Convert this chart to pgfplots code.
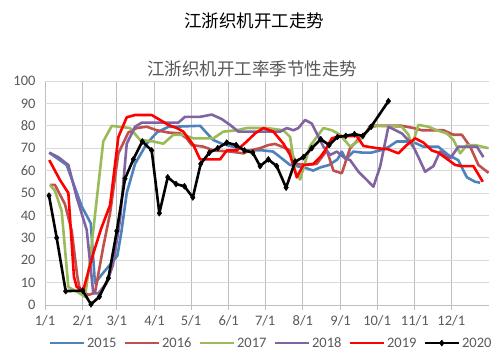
\documentclass[border=0pt]{standalone}
\usepackage{fontspec}
\setmainfont{Carlito}
\newfontfamily\cjk{Noto Sans CJK SC}
\usepackage{pgfplots}
\pgfplotsset{compat=1.18}
\definecolor{c15}{HTML}{4F81BD}
\definecolor{c16}{HTML}{C0504D}
\definecolor{c17}{HTML}{9BBB59}
\definecolor{c18}{HTML}{8064A2}
\definecolor{c19}{HTML}{FF0000}
\definecolor{txt}{HTML}{595959}
\definecolor{gridh}{HTML}{D9D9D9}
\definecolor{gridv}{HTML}{BFBFBF}
\begin{document}
\begin{tikzpicture}
\useasboundingbox (0,0) rectangle (498pt,352pt);
\node[font=\cjk\fontsize{17.5}{20}\selectfont] at (254pt,331pt) {江浙织机开工走势};
\node[font=\cjk\fontsize{17.5}{20}\selectfont, text=txt] at (252pt,283pt) {江浙织机开工率季节性走势};
\begin{axis}[
  at={(45pt,47pt)}, anchor=south west, scale only axis,
  width=444pt, height=224pt,
  xmin=0, xmax=365, ymin=0, ymax=100, clip=false,
  xtick={0,31,59,90,120,151,181,212,243,273,304,334},
  xticklabels={1/1,2/1,3/1,4/1,5/1,6/1,7/1,8/1,9/1,10/1,11/1,12/1},
  ytick={0,10,...,100},
  grid=major,
  x grid style={color=gridv, line width=0.8pt},
  y grid style={color=gridh, line width=0.8pt},
  separate axis lines,
  axis x line*=bottom, axis y line*=left,
  x axis line style={gridv, line width=0.8pt, -},
  y axis line style={draw=none},
  ytick style={draw=none},
  xtick style={gridv, line width=0.8pt},
  tick align=outside, major tick length=5pt,
  tick label style={font=\fontsize{14.5}{16}\selectfont, text=txt},
  /pgf/number format/assume math mode=true,
  xticklabel style={yshift=-2pt},
  yticklabel style={xshift=-1pt},
  legend style={at={(0.509,-0.17)}, anchor=center, draw=none, fill=none,
    font=\fontsize{14.5}{16}\selectfont, text=txt,
    /tikz/every even column/.append style={column sep=5pt}},
  legend columns=-1,
  legend image code/.code={\draw[mark repeat=2,mark phase=2,#1] plot coordinates {(0pt,0pt) (17pt,0pt) (34pt,0pt)};},
  every axis plot/.append style={line width=2.6pt, line join=round},
]
\addplot[c15, no markers] coordinates {(3.5,68)(17.8,62.5)(30.2,44)(37.6,36.5)(41.1,9.7)(47.3,14)(53.5,18)(59.5,22)(62.9,33)(67.2,50)(74.0,63)(83.6,72)(91.9,77)(101.2,79.5)(127.5,80)(138.2,73.7)(145.3,72)(165.9,69)(179.3,69)(187.5,68.5)(195.7,65)(201.5,62.5)(207.0,62)(215.2,61)(220.4,60)(226.7,61.5)(233.6,62.5)(240.4,65)(244.0,68.5)(247.3,65)(253.5,68.5)(261.3,68)(268.1,68)(275.5,69)(282.3,70.5)(289.2,73)(301.6,73)(310.9,70.7)(323.2,70.7)(331.4,67)(339.6,64.7)(346.8,57)(353.6,55)(357.7,54.6)};
\addlegendentry{2015}
\addplot[c16, no markers] coordinates {(4.1,53.6)(8.2,53.6)(16.4,45)(22.0,33)(26.6,12.6)(28.8,6.7)(35.8,4.5)(41.1,5.5)(47.9,26)(53.5,41)(60.3,67.7)(68.5,77)(75.4,79)(83.6,79.6)(91.9,78)(101.4,77)(111.0,76.6)(116.5,74.4)(120.6,71.4)(130.2,70.7)(138.4,69)(152.1,68.5)(163.1,67.7)(168.6,69)(176.8,70)(183.6,71.4)(189.1,71.9)(196.0,70.4)(201.5,69)(207.0,63)(215.2,62.5)(223.4,63)(231.7,69)(237.1,60)(244.0,58.8)(250.8,70)(257.7,74)(264.6,77.4)(267.3,80)(282.3,80)(293.3,80)(302.9,79)(309.8,78)(327.5,78)(335.8,76)(342.7,76)(349.5,70.7)(356.3,62.5)(364.6,59)};
\addlegendentry{2016}
\addplot[c17, no markers] coordinates {(4.1,53.6)(8.2,51)(13.7,42)(19.2,8)(26.1,6)(32.9,3.7)(37.0,20)(42.5,47)(47.9,73)(54.9,80)(60.3,79.6)(69.9,79)(78.1,73.7)(89.1,73)(97.3,72)(105.5,76)(113.7,76)(122.0,74.4)(138.4,74.4)(146.6,77.4)(157.6,78)(165.9,79)(182.3,79)(196.0,78)(201.5,75)(205.6,60)(209.7,56)(217.9,71)(228.9,79)(235.8,78)(242.6,76)(250.8,70.7)(259.0,73.7)(267.3,79)(272.8,80)(293.3,79.6)(298.8,76)(301.6,71)(307.0,80.4)(315.2,79.6)(322.1,78)(330.3,76.6)(335.8,73.7)(341.3,67.7)(346.8,71.4)(353.6,71.4)(364.6,70)};
\addlegendentry{2017}
\addplot[c18, no markers] coordinates {(3.5,68)(10.9,66)(19.2,62.5)(26.1,48)(34.3,33.5)(39.7,5.2)(43.8,5.2)(50.7,9.7)(55.9,18)(61.7,38)(67.2,72)(74.0,79.6)(79.5,81.4)(109.6,81.4)(115.1,84)(127.5,84)(137.1,85)(145.3,83)(152.1,80.4)(159.0,77.4)(193.3,77.4)(198.8,79)(204.2,78)(208.3,79)(213.8,82.6)(219.3,81)(223.4,76.6)(228.9,70.7)(234.4,67)(239.9,68.5)(246.7,65.5)(250.8,64.7)(257.7,59.5)(264.6,55.8)(270.0,52.8)(275.5,61.8)(282.3,79.6)(293.3,76.6)(301.6,72)(307.0,66)(312.5,59.5)(319.3,62)(324.8,68.5)(333.1,65.5)(339.9,70.7)(355.0,70.7)(360.4,66)};
\addlegendentry{2018}
\addplot[c19, no markers] coordinates {(3.5,64.7)(12.3,55.8)(19.2,50)(23.8,12.6)(26.1,8)(31.5,6.7)(39.7,23)(46.1,34)(53.5,44.6)(60.3,75)(67.2,83.8)(74.0,84.8)(87.7,84.8)(94.6,82.6)(101.4,80.4)(108.3,79)(113.7,77.4)(122.0,71.4)(127.5,65)(143.9,65)(149.4,69)(157.6,69)(165.9,73)(172.7,76.6)(179.5,79)(187.7,77.4)(196.0,72)(201.5,67)(207.0,57)(212.4,62.5)(220.6,63)(226.2,66)(230.3,69)(235.8,74.4)(242.6,75.4)(256.3,75.4)(261.8,71)(272.8,70)(282.3,69.5)(290.5,67.7)(297.4,71.4)(304.3,74.4)(311.1,72.5)(318.0,69)(323.4,68)(331.7,64.7)(337.2,62.5)(342.7,62)(352.2,62)(359.9,55)};
\addlegendentry{2019}
\addplot[black, mark=diamond*, mark size=3pt, mark options={line width=0.5pt}] coordinates {(3.3,48.8)(9.6,30)(17.0,6.2)(31.0,6.4)(37.8,0.3)(44.7,3.7)(52.1,12)(59.0,33)(65.8,56.4)(72.6,65)(80.0,73)(87.7,69)(94.0,41)(100.9,57)(107.7,54)(114.6,53)(121.5,48)(128.0,63)(135.1,68)(142.0,70)(149.4,72.5)(157.1,71.4)(163.9,69)(170.8,68)(176.8,62)(183.6,65)(190.5,62)(198.2,52.4)(205.6,64)(212.4,66)(219.3,70)(226.7,74)(233.6,71.4)(240.4,75)(247.3,75.5)(254.4,76.3)(261.3,75.5)(268.1,79.6)(282.3,91)};
\addlegendentry{2020}
\end{axis}
\end{tikzpicture}
\end{document}
